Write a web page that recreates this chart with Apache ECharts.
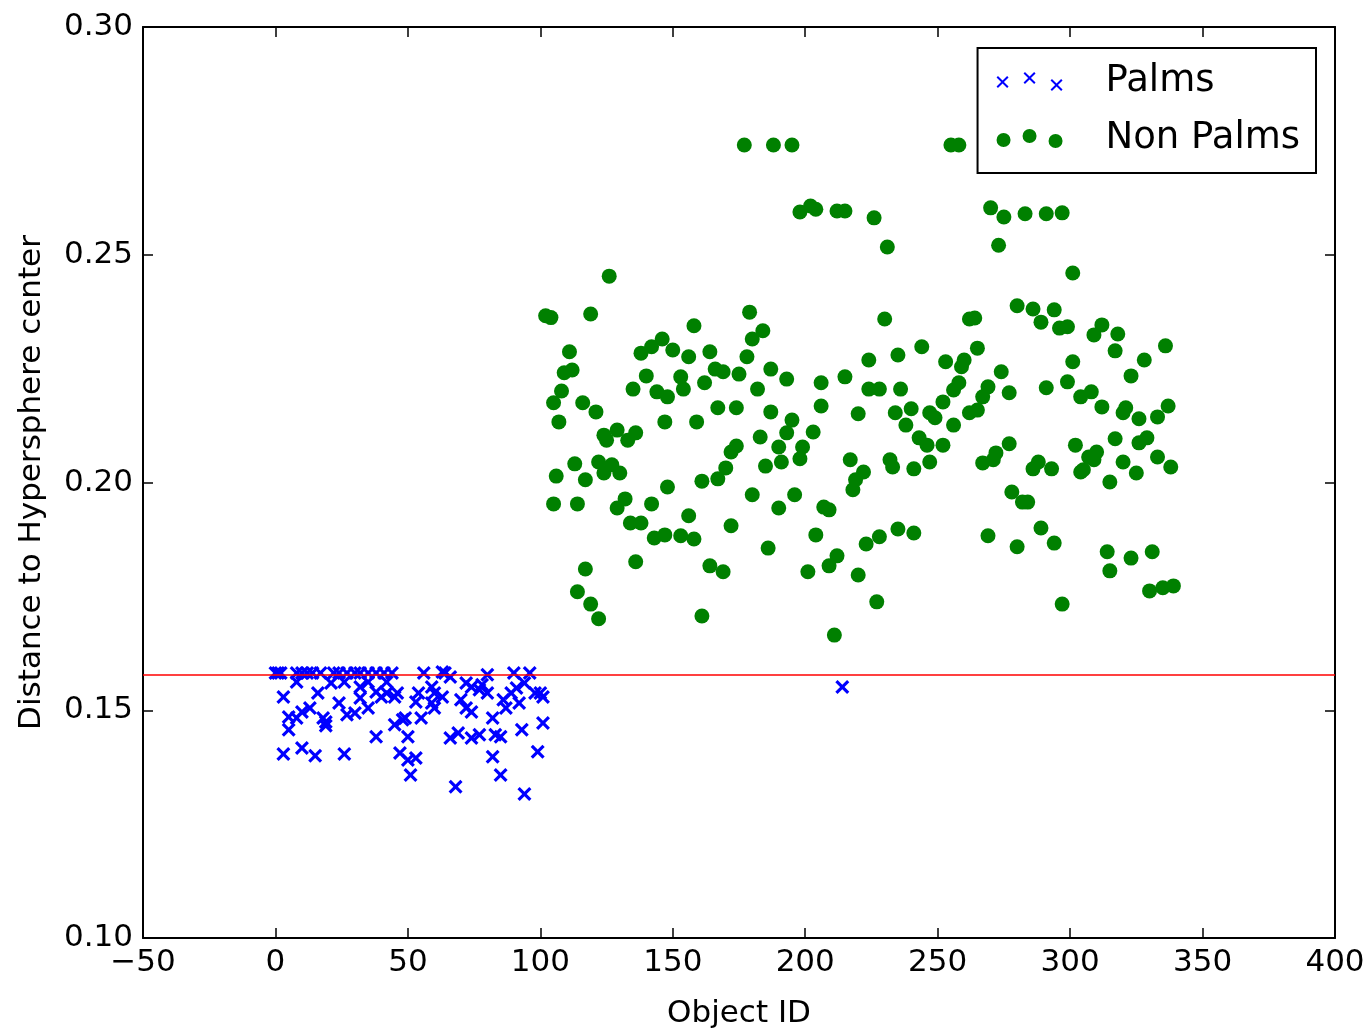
<!DOCTYPE html>
<html lang="en">
<head>
    <meta charset="UTF-8">
    <title>Palms distance</title>
    <style>
        html, body { margin: 0; padding: 0; background: #fff; }
    </style>
</head>
<body>
<div id="main" style="width: 1368px;height:1032px;"></div>
<script src="https://cdn.jsdelivr.net/npm/echarts@6/dist/echarts.min.js"></script>
<script type="text/javascript">
    // values: [object id, distance]
    var palms = [
        [0,0.1582],[1,0.1582],[2,0.1582],[8,0.1582],[10,0.1582],[12,0.1582],[14,0.1582],[17,0.1582],
        [22,0.1582],[24,0.1582],[27,0.1582],[30,0.1582],[32,0.1582],[35,0.1582],[38,0.1582],[41,0.1582],
        [44,0.1582],[56,0.1582],[63,0.1584],[64,0.1582],[66,0.1573],[80,0.1578],[90,0.1582],[96,0.1582],
        [8,0.1562],[3,0.1529],[16,0.1538],[21,0.1560],[26,0.1562],[32,0.1551],[35,0.1562],[38,0.1540],
        [40,0.1529],[42,0.1562],[42,0.1538],[45,0.1529],[32,0.1527],[24,0.1516],[13,0.1505],[10,0.1496],
        [5,0.1485],[8,0.1483],[18,0.1483],[19,0.1474],[19,0.1466],[27,0.1490],[30,0.1494],[35,0.1505],
        [5,0.1457],[45,0.1468],[49,0.1483],[38,0.1442],[3,0.1404],[10,0.1417],[15,0.1400],[26,0.1404],
        [46,0.1538],[54,0.1538],[53,0.1518],[59,0.1551],[60,0.1538],[63,0.1529],[72,0.1560],[74,0.1551],
        [77,0.1545],[78,0.1556],[80,0.1538],[70,0.1523],[72,0.1505],[74,0.1496],[60,0.1505],[59,0.1516],
        [86,0.1523],[89,0.1538],[91,0.1549],[94,0.1560],[87,0.1505],[92,0.1516],[98,0.1538],[100,0.1538],
        [101,0.1529],[48,0.1479],[55,0.1483],[82,0.1483],[101,0.1472],[50,0.1442],[66,0.1439],[69,0.1450],
        [74,0.1439],[77,0.1446],[83,0.1446],[85,0.1442],[93,0.1457],[47,0.1406],[50,0.1391],[53,0.1395],
        [82,0.1398],[99,0.1409],[51,0.1358],[85,0.1358],[68,0.1332],[94,0.1316],[214,0.1551]
    ];

    var nonPalms = [
        [102,0.2366],[104,0.2362],[119,0.2370],[111,0.2287],[138,0.2284],[142,0.2298],[146,0.2315],[109,0.2241],
        [112,0.2247],[140,0.2234],[108,0.2201],[135,0.2205],[105,0.2175],[116,0.2175],[121,0.2155],[144,0.2199],
        [148,0.2188],[107,0.2133],[147,0.2133],[124,0.2104],[125,0.2093],[129,0.2115],[133,0.2093],[136,0.2109],
        [113,0.2041],[122,0.2045],[106,0.2014],[117,0.2006],[124,0.2021],[127,0.2039],[130,0.2021],[148,0.1990],
        [105,0.1953],[114,0.1953],[132,0.1964],[129,0.1944],[142,0.1953],[134,0.1911],[138,0.1911],[143,0.1878],
        [147,0.1885],[136,0.1826],[117,0.1810],[114,0.1760],[119,0.1733],[122,0.1701],[126,0.2453],
        [179,0.2374],[158,0.2344],[184,0.2333],[180,0.2315],[150,0.2291],[156,0.2276],[164,0.2287],[178,0.2276],
        [166,0.2249],[169,0.2243],[175,0.2238],[187,0.2249],[193,0.2227],[153,0.2232],[154,0.2205],[162,0.2219],
        [182,0.2205],[167,0.2164],[174,0.2164],[187,0.2155],[159,0.2133],[195,0.2137],[193,0.2109],[183,0.2100],
        [190,0.2078],[174,0.2080],[172,0.2067],[170,0.2032],[185,0.2036],[191,0.2045],[161,0.2003],[167,0.2008],
        [180,0.1973],[196,0.1973],[190,0.1944],[156,0.1927],[172,0.1905],[153,0.1883],[158,0.1876],[186,0.1856],
        [164,0.1817],[169,0.1804],[161,0.1707],
        [177,0.2741],[188,0.2741],[195,0.2741],[198,0.2594],[202,0.2607],[204,0.2600],[212,0.2596],[215,0.2596],
        [226,0.2581],[231,0.2517],[230,0.2359],[244,0.2298],[235,0.2280],[224,0.2269],[215,0.2232],[206,0.2219],
        [224,0.2205],[228,0.2205],[236,0.2205],[206,0.2168],[220,0.2151],[234,0.2153],[240,0.2162],[238,0.2126],
        [247,0.2153],[203,0.2111],[199,0.2078],[198,0.2052],[217,0.2050],[232,0.2050],[233,0.2034],[241,0.2030],
        [243,0.2098],[246,0.2082],[247,0.2045],[222,0.2023],[219,0.2006],[218,0.1984],[207,0.1946],[209,0.1940],
        [204,0.1885],[223,0.1865],[228,0.1881],[235,0.1898],[241,0.1889],[212,0.1839],[209,0.1817],[201,0.1804],
        [220,0.1797],[227,0.1738],[211,0.1665],
        [255,0.2741],[258,0.2741],[270,0.2603],[275,0.2583],[283,0.2590],[291,0.2590],[297,0.2592],[273,0.2521],
        [280,0.2388],[286,0.2381],[289,0.2352],[294,0.2379],[262,0.2359],[264,0.2361],[265,0.2295],[253,0.2265],
        [260,0.2269],[259,0.2254],[274,0.2243],[277,0.2197],[291,0.2208],[258,0.2219],[256,0.2203],[269,0.2210],
        [267,0.2188],[252,0.2177],[249,0.2142],[256,0.2126],[262,0.2153],[265,0.2159],[252,0.2082],[277,0.2085],
        [272,0.2065],[271,0.2050],[267,0.2043],[288,0.2045],[286,0.2030],[293,0.2030],[278,0.1979],[282,0.1957],
        [284,0.1957],[289,0.1900],[269,0.1883],[280,0.1859],[294,0.1867],[297,0.1733],
        [301,0.2460],[296,0.2339],[299,0.2342],[309,0.2324],[312,0.2346],[318,0.2326],[317,0.2289],[336,0.2300],
        [328,0.2269],[301,0.2265],[323,0.2234],[299,0.2221],[304,0.2188],[308,0.2199],[312,0.2166],[321,0.2164],
        [320,0.2153],[326,0.2140],[337,0.2168],[333,0.2144],[302,0.2082],[307,0.2056],[310,0.2067],[309,0.2050],
        [304,0.2023],[305,0.2028],[317,0.2096],[320,0.2045],[325,0.2021],[315,0.2001],[326,0.2087],[329,0.2098],
        [333,0.2056],[338,0.2034],[314,0.1848],[315,0.1806],[323,0.1834],[331,0.1848],[330,0.1762],[335,0.1769],
        [339,0.1773]
    ];

    var threshold = 0.1578;
    var seriesNames = ['Palms', 'Non Palms'];
    var xRange = [-50, 400, 50];
    var yRange = [0.10, 0.30, 0.05];

    var FONT = "'DejaVu Sans', sans-serif";

    // filled "x" marker
    function crossPath(cx, cy, h, t) {
        var p = [
            [cx - h, cy - h + t], [cx - h + t, cy - h], [cx, cy - t], [cx + h - t, cy - h],
            [cx + h, cy - h + t], [cx + t, cy], [cx + h, cy + h - t], [cx + h - t, cy + h],
            [cx, cy + t], [cx - h + t, cy + h], [cx - h, cy + h - t], [cx - t, cy]
        ];
        return 'M' + p.map(function (q) { return q[0] + ',' + q[1]; }).join('L') + 'Z';
    }
    function circlePath(cx, cy, r) {
        return 'M' + (cx - r) + ',' + cy + 'A' + r + ',' + r + ' 0 1,0 ' + (cx + r) + ',' + cy +
            'A' + r + ',' + r + ' 0 1,0 ' + (cx - r) + ',' + cy + 'Z';
    }

    var xSymbol = 'path://' + crossPath(5, 5, 5, 1.6);
    // legend shows three markers like matplotlib
    var palmIcon = 'path://' + crossPath(6, 10, 6, 1.4) + crossPath(33, 6, 6, 1.4) + crossPath(60, 13, 6, 1.4);
    var nonPalmIcon = 'path://' + circlePath(7, 11, 7) + circlePath(33, 7, 7) + circlePath(59, 12, 7);

    function minus(v) { return String(v).replace('-', '\u2212'); }

    var axisLine = {show: true, onZero: false, lineStyle: {color: '#000', width: 2}};
    var axisTick = {show: true, inside: true, length: 10, lineStyle: {color: '#000', width: 1.5}};

    var myChart = echarts.init(document.getElementById('main'));
    myChart.setOption({
        animation: false,
        backgroundColor: '#fff',
        grid: {left: 143, right: 33, top: 27, bottom: 94, containLabel: false, outerBoundsMode: 'none'},
        legend: {
            orient: 'vertical',
            right: 52,
            top: 48,
            padding: [15, 16, 16, 19],
            itemGap: 20,
            itemWidth: 66,
            itemHeight: 19,
            borderColor: '#000',
            borderWidth: 2,
            borderRadius: 0,
            backgroundColor: '#fff',
            textStyle: {fontSize: 37, fontFamily: FONT, color: '#000', lineHeight: 36, padding: [0, 0, 0, 38]},
            data: [
                {name: seriesNames[0], icon: palmIcon},
                {name: seriesNames[1], icon: nonPalmIcon}
            ]
        },
        xAxis: [{
            type: 'value', position: 'bottom',
            min: xRange[0], max: xRange[1], interval: xRange[2],
            axisLine: axisLine, axisTick: axisTick, splitLine: {show: false},
            axisLabel: {color: '#000', fontSize: 31, fontFamily: FONT, margin: 9, formatter: minus},
            name: 'Object ID', nameLocation: 'middle', nameGap: 60,
            nameTextStyle: {color: '#000', fontSize: 31, fontFamily: FONT}
        }, {
            type: 'value', position: 'top',
            min: xRange[0], max: xRange[1], interval: xRange[2],
            axisLine: axisLine, axisTick: axisTick, splitLine: {show: false},
            axisLabel: {show: false}
        }],
        yAxis: [{
            type: 'value', position: 'left',
            min: yRange[0], max: yRange[1], interval: yRange[2],
            axisLine: axisLine, axisTick: axisTick, splitLine: {show: false},
            axisLabel: {color: '#000', fontSize: 31, fontFamily: FONT, margin: 10,
                formatter: function (v) { return v.toFixed(2); }},
            name: 'Distance to Hypersphere center', nameLocation: 'middle', nameGap: 96, nameRotate: 90,
            nameTextStyle: {color: '#000', fontSize: 31, fontFamily: FONT}
        }, {
            type: 'value', position: 'right',
            min: yRange[0], max: yRange[1], interval: yRange[2],
            axisLine: axisLine, axisTick: axisTick, splitLine: {show: false},
            axisLabel: {show: false}
        }],
        series: [{
            name: seriesNames[0],
            type: 'scatter',
            symbol: xSymbol,
            symbolSize: 14,
            itemStyle: {color: '#0000ff', opacity: 1},
            data: palms,
            markLine: {
                silent: true,
                precision: 4,
                symbol: ['none', 'none'],
                label: {show: false},
                lineStyle: {color: '#ff0000', width: 1.5, type: 'solid'},
                data: [{yAxis: threshold}]
            }
        }, {
            name: seriesNames[1],
            type: 'scatter',
            symbol: 'circle',
            symbolSize: 15,
            itemStyle: {color: '#008000', opacity: 1},
            data: nonPalms
        }]
    });
</script>
</body>
</html>
